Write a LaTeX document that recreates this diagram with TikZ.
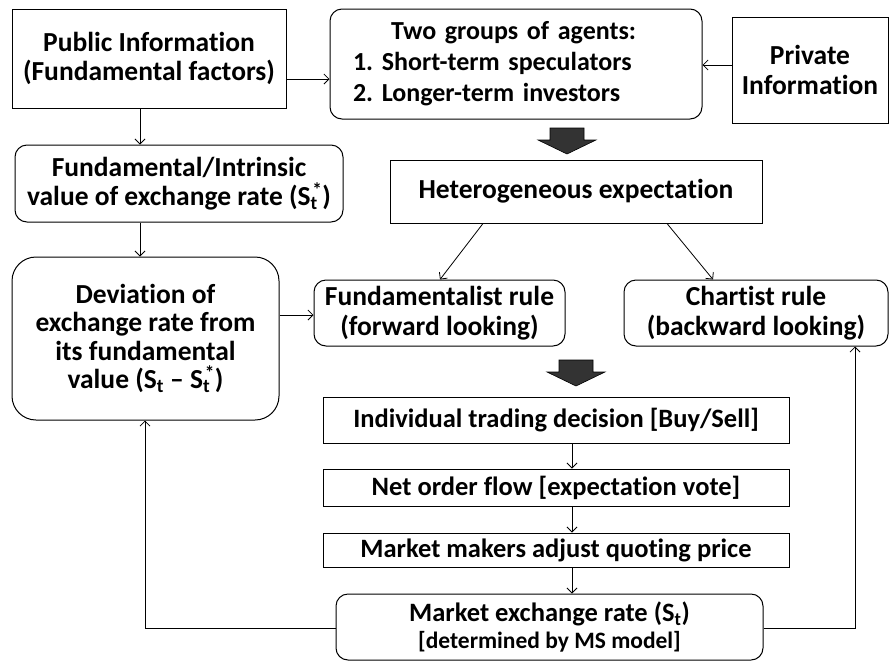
\documentclass[tikz,border=0pt]{standalone}
\usepackage{fontspec}
\setmainfont{Carlito}[Ligatures=NoCommon]
\usetikzlibrary{arrows.meta}
\frenchspacing
\newcommand\Sst{S\textsubscript{t}\kern-0.2em\textsuperscript{*}}
\newcommand\St{S\textsubscript{t}}
\begin{document}
\begin{tikzpicture}[x=1pt,y=-1pt,
  every node/.style={font=\bfseries\fontsize{27.5}{29.5}\selectfont},
  box/.style={draw, line width=1pt, inner sep=0pt, align=center},
  rbox/.style={box, rounded corners=12pt},
  small/.style={font=\bfseries\fontsize{26.5}{29}\selectfont},
  conn/.style={line width=0.8pt, -{Straight Barb[length=5pt,width=10pt]}},
  bigarr/.style={fill=black!80, draw=black, line width=0.6pt}]
\useasboundingbox (0,0) rectangle (889,662);
% top row
\node[box, minimum width=274pt, minimum height=99pt] (pub) at (149,58.5) {Public Information\\(Fundamental factors)};
\node[rbox, minimum width=352pt, minimum height=110pt, text width=326pt, inner xsep=23pt, align=left,
  font=\bfseries\fontsize{26}{31}\selectfont] (agents) at (516,64)
  {\hspace*{38pt}Two groups of agents:\\1. Short-term speculators\\2. Longer-term investors};
\node[box, minimum width=156pt, minimum height=106pt] (priv) at (810,70) {Private\\Information};
% middle
\node[rbox, minimum width=328pt, minimum height=77pt] (intr) at (179,183.5) {Fundamental/Intrinsic\\value of exchange rate (\Sst)};
\node[box, minimum width=372pt, minimum height=63pt] (het) at (576,191.5) {Heterogeneous expectation};
\node[rbox, rounded corners=24pt, minimum width=267pt, minimum height=163pt,
  font=\bfseries\fontsize{27.5}{28.5}\selectfont] (dev) at (145.5,338.5)
  {Deviation of\\exchange rate from\\its fundamental\\value (\St\ -- \Sst)};
\node[rbox, minimum width=251pt, minimum height=66pt] (fund) at (439.5,313) {Fundamentalist rule\\(forward looking)};
\node[rbox, minimum width=264pt, minimum height=66pt] (chart) at (756,313) {Chartist rule\\(backward looking)};
% bottom chain
\node[box, small, minimum width=466pt, minimum height=46pt] (indiv) at (556,420) {Individual trading decision [Buy/Sell]};
\node[box, small, minimum width=466pt, minimum height=37pt] (net) at (556,487.5) {Net order flow [expectation vote]};
\node[box, small, minimum width=466pt, minimum height=34pt] (maker) at (556,550) {Market makers adjust quoting price};
\node[rbox, small, minimum width=427pt, minimum height=66pt] (mkt) at (549.5,627)
  {Market exchange rate (\St)\\[-2pt]{\fontsize{23.5}{25}\selectfont[determined by MS model]}};
% big arrows
\foreach \cx/\cy in {567/128,576/360}
  \fill[bigarr] (\cx-17,\cy) -- ++(34,0) -- ++(0,12) -- ++(12,0) -- (\cx,\cy+26) -- (\cx-29,\cy+12) -- ++(12,0) -- cycle;
% connectors
\draw[conn] (pub.east |- 0,79) -- (agents.west |- 0,79);
\draw[conn] (priv.west |- 0,65) -- (agents.east |- 0,65);
\draw[conn] (pub.south -| 140,0) -- (intr.north -| 140,0);
\draw[conn] (intr.south -| 140,0) -- (dev.north -| 140,0);
\draw[conn] (dev.east |- 0,315) -- (fund.west |- 0,315);
\draw[conn] (het.south -| 483,0) -- (fund.north -| 440,0);
\draw[conn] (het.south -| 667,0) -- (chart.north -| 713,0);
\draw[conn] (indiv.south -| 572,0) -- (net.north -| 572,0);
\draw[conn] (net.south -| 572,0) -- (maker.north -| 572,0);
\draw[conn] (maker.south -| 572,0) -- (mkt.north -| 572,0);
\draw[conn] (mkt.west |- 0,628) -| (dev.south -| 145,0);
\draw[conn] (mkt.east |- 0,628) -| (chart.south -| 855,0);
\end{tikzpicture}
\end{document}
